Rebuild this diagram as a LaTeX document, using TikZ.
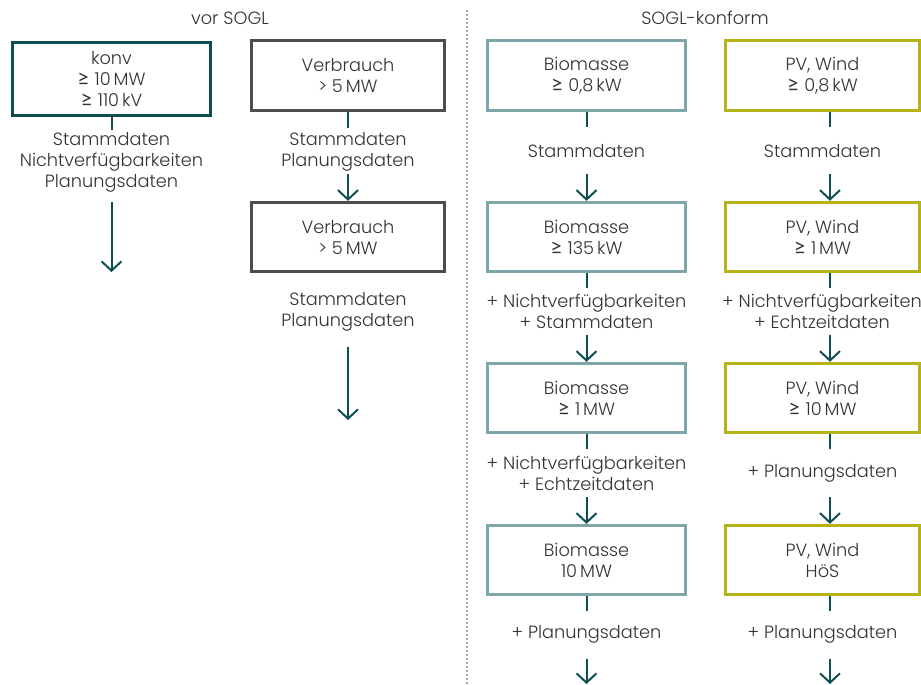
\documentclass[tikz,border=0pt]{standalone}
\usepackage{fontspec}
\setmainfont{Poppins}[UprightFont=* Light]
\newfontfamily\symfont{Lato}[Scale=1.2]
\usetikzlibrary{arrows.meta}

\definecolor{konvcol}{HTML}{0E4D4F}
\definecolor{verbcol}{HTML}{4D4D4D}
\definecolor{biocol}{HTML}{7DA7A8}
\definecolor{pvcol}{HTML}{B5B317}
\definecolor{linecol}{HTML}{0F4F52}
\definecolor{textgray}{HTML}{333333}

\newcommand{\geqsym}{{\symfont ≥}}

\begin{document}
\begin{tikzpicture}[x=0.75pt, y=-0.75pt,
    every node/.style={font=\fontsize{13.3}{15.75}\selectfont, text=textgray},
    box/.style={draw, line width=2.25pt, minimum height=52pt, align=center, inner sep=0pt},
    konvbox/.style={box, draw=konvcol, minimum width=148pt, minimum height=55pt},
    verbbox/.style={box, draw=verbcol, minimum width=145pt},
    biobox/.style={box, draw=biocol, minimum width=148pt},
    pvbox/.style={box, draw=pvcol, minimum width=145pt},
    info/.style={align=center},
    stub/.style={draw=linecol, line width=1.5pt},
    arr/.style={stub, -{Straight Barb[length=7pt, width=15pt, line width=1.5pt]}}]
    \useasboundingbox (0,0) rectangle (921,685);

    % Divider between the two halves
    \draw[gray!70, line width=1.2pt, dash pattern=on 1.5pt off 1.5pt] (467,10) -- (467,685);

    % Headings
    \node (vor) at (230,18) {vor SOGL};
    \node (konform) at (705,18) {SOGL-konform};

    % Left half: konv
    \node[konvbox] (konv) at (111.5,79) {konv\\\geqsym{} 10\,MW\\\geqsym{} 110\,kV};
    \node[info] (konvinfo) at (111.5,162) {Stammdaten\\Nichtverfügbarkeiten\\Planungsdaten};
    \coordinate (konvend) at (111.5,272);
    \draw[stub] (konv.south) -- ++(0,13);
    \draw[arr] (konvend) ++(0,-70) -- (konvend);

    % Left half: Verbrauch
    \node[verbbox] (verb1) at (348,75.5) {Verbrauch\\> 5\,MW};
    \node[verbbox] (verb2) at (348,237) {Verbrauch\\> 5\,MW};
    \node[info] (verbinfo1) at (348,151.5) {Stammdaten\\Planungsdaten};
    \node[info] (verbinfo2) at (348,311.5) {Stammdaten\\Planungsdaten};
    \coordinate (verbend) at (348,420);
    \draw[stub] (verb1.south) -- ++(0,16);
    \draw[arr] (verb2.north) ++(0,-27) -- (verb2.north);
    \draw[arr] (verbend) ++(0,-73) -- (verbend);

    % Right half: Biomasse
    \node[biobox] (bio1) at (586.5,75.5) {Biomasse\\\geqsym{} 0,8\,kW};
    \node[biobox] (bio2) at (586.5,237) {Biomasse\\\geqsym{} 135\,kW};
    \node[biobox] (bio3) at (586.5,398) {Biomasse\\\geqsym{} 1\,MW};
    \node[biobox] (bio4) at (586.5,560) {Biomasse\\10\,MW};
    \node[info] (bioinfo1) at (586.5,151) {Stammdaten};
    \node[info] (bioinfo2) at (586.5,311) {+ Nichtverfügbarkeiten\\+ Stammdaten};
    \node[info] (bioinfo3) at (586.5,473.5) {+ Nichtverfügbarkeiten\\+ Echtzeitdaten};
    \node[info] (bioinfo4) at (586.5,634) {+ Planungsdaten};
    \coordinate (bioend) at (586.5,684);
    \foreach \n in {1,...,4}
      \draw[stub] (bio\n.south) -- ++(0,15);
    \foreach \n in {2,3,4}
      \draw[arr] (bio\n.north) ++(0,-27) -- (bio\n.north);
    \draw[arr] (bioend) ++(0,-25) -- (bioend);

    % Right half: PV, Wind
    \node[pvbox] (pv1) at (822.5,75.5) {PV, Wind\\\geqsym{} 0,8\,kW};
    \node[pvbox] (pv2) at (822.5,237) {PV, Wind\\\geqsym{} 1\,MW};
    \node[pvbox] (pv3) at (822.5,398) {PV, Wind\\\geqsym{} 10\,MW};
    \node[pvbox] (pv4) at (822.5,560) {PV, Wind\\HöS};
    \node[info] (pvinfo1) at (822.5,151) {Stammdaten};
    \node[info] (pvinfo2) at (822,311) {+ Nichtverfügbarkeiten\\+ Echtzeitdaten};
    \node[info] (pvinfo3) at (822.5,473) {+ Planungsdaten};
    \node[info] (pvinfo4) at (822.5,634) {+ Planungsdaten};
    \coordinate (pvend) at (830,684);
    \foreach \n in {1,...,4}
      \draw[stub] ([xshift=5.6pt]pv\n.south) -- ++(0,15);
    \foreach \n in {2,3,4}
      \draw[arr] ([xshift=5.6pt]pv\n.north) ++(0,-27) -- ([xshift=5.6pt]pv\n.north);
    \draw[arr] (pvend) ++(0,-25) -- (pvend);
\end{tikzpicture}
\end{document}
